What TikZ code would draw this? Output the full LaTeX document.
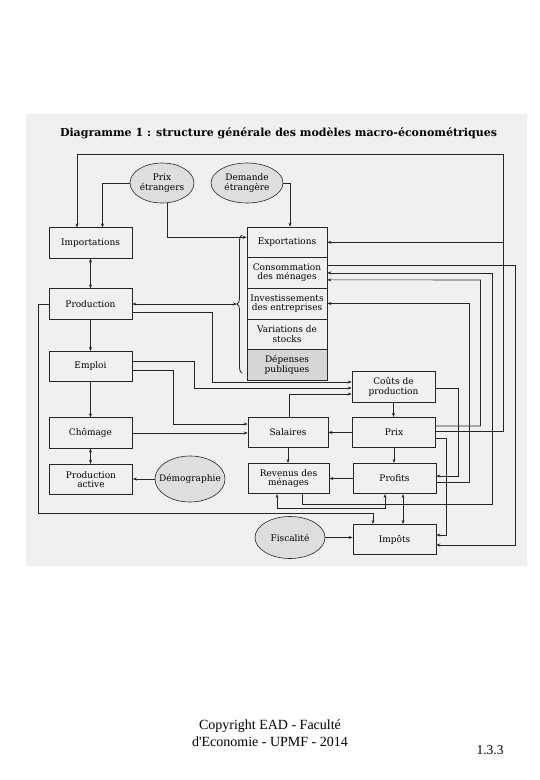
\documentclass[tikz,border=0pt]{standalone}
\usepackage{fontspec}
\setmainfont{DejaVu Serif}
\newfontfamily\footfont{Liberation Serif}
\usetikzlibrary{shapes.geometric,arrows.meta,calc,decorations.pathreplacing}
\begin{document}
\begin{tikzpicture}[x=1pt,y=-1pt,
  txt/.style={font=\fontsize{9}{9.5}\selectfont, align=center},
  box/.style={txt, draw=black!85, line width=0.6pt, minimum width=83pt, minimum height=30.5pt, inner sep=1pt},
  cell/.style={box, minimum width=80pt, minimum height=30.6pt},
  ell/.style={ellipse, draw=black!85, line width=0.6pt, fill=black!13, inner sep=0pt},
  ln/.style={draw=black!85, line width=0.55pt},
  arr/.style={ln, -{Stealth[length=4pt,width=3pt]}},
  darr/.style={ln, {Stealth[length=4pt,width=3pt]}-{Stealth[length=4pt,width=3pt]}},
]
\useasboundingbox (0,0) rectangle (540,780);
\fill[white] (0,0) rectangle (540,780);
\fill[black!6] (26,114) rectangle (527,566);

\node[font=\bfseries\fontsize{11}{13}\selectfont] (title) at (278.5,133) {Diagramme 1 : structure générale des modèles macro-économétriques};

% left column
\node[box] (imp) at (90.5,243) {Importations};
\node[box] (prod) at (90.5,304) {Production};
\node[box] (emp) at (90.5,366.5) {Emploi};
\node[box] (cho) at (90.5,433) {Chômage};
\node[box] (pa) at (91,479.5) {Production\\active};

% demand stack
\node[cell] (expo) at (287,242.3) {Exportations};
\node[cell] (cons) at (287,272.9) {Consommation\\des ménages};
\node[cell] (inv) at (287,303.5) {Investissements\\des entreprises};
\node[cell] (var) at (287,334.1) {Variations de\\stocks};
\node[cell, fill=black!16] (dep) at (287,364.7) {Dépenses\\publiques};

% middle and right
\node[box] (cout) at (393.5,387) {Coûts de\\production};
\node[box] (prix) at (394,432.5) {Prix};
\node[box] (prof) at (394.5,478.5) {Profits};
\node[box] (impo) at (394.5,539.5) {Impôts};
\node[box, minimum width=80pt] (sal) at (288,432.5) {Salaires};
\node[box, minimum width=81pt] (rev) at (288.5,478.5) {Revenus des\\ménages};

% ellipses
\node[ell, minimum width=64pt, minimum height=40pt, label={[txt]center:Prix\\étrangers}] (pe) at (162,183) {};
\node[ell, minimum width=72pt, minimum height=40pt, label={[txt]center:Demande\\étrangère}] (de) at (247,183) {};
\node[ell, minimum width=70pt, minimum height=46pt, label={[txt]center:Démographie}] (demo) at (190,479) {};
\node[ell, minimum width=70pt, minimum height=42pt, label={[txt]center:Fiscalité}] (fis) at (290,537.5) {};

% brace
\draw[ln, line width=0.8pt, decorate, decoration={brace, amplitude=5pt}] (242,373) -- (242,235);
\coordinate (btip) at (237,304);
\coordinate (tr) at (503,154);

% connectors
\draw[darr] (prod.east) -- (btip);
\draw[arr] (pe.west) -| ($(imp.north)+(12,0)$);
\draw[arr] (pe.-75) |- ($(expo.west)+(0,-5)$);
\draw[arr] (de.east) -| ($(expo.north)+(3,0)$);
\draw[arr] ($(prix.east)+(0,-1.5)$) -| (tr) -| ($(imp.north)+(-13.5,0)$);
\draw[arr] (expo.east -| tr) -- (expo.east);

\draw[darr] (imp.south) -- (prod.north);
\draw[arr] (prod.south) -- (emp.north);
\draw[arr] (emp.south) -- (cho.north);
\draw[darr] (cho.south) -- (cho.south |- pa.north);
\draw[arr] (demo.west) -- (demo.west -| pa.east);

\draw[arr] ($(prod.east)+(0,8)$) -| (212,382) -- ($(cout.west)+(0,-5)$);
\draw[arr] ($(emp.east)+(0,-5.5)$) -| (194,388) -- ($(cout.west)+(0,1)$);
\draw[arr] ($(sal.north)+(1,0)$) |- ($(cout.west)+(0,7)$);
\draw[arr] ($(emp.east)+(0,3.5)$) -| (173,424) -- ($(sal.west)+(0,-8.5)$);
\draw[arr] (cho.east) -- (cho.east -| sal.west);

\draw[arr] (cout.south) -- (cout.south |- prix.north);
\draw[arr] (prix.west) -- (sal.east);
\draw[arr] (prix.south) -- (prix.south |- prof.north);
\draw[arr] (sal.south) -- (sal.south |- rev.north);
\draw[arr] (prof.west) -- (rev.east);
\draw[arr] (fis.east) -- (fis.east -| impo.west);

\draw[arr] (prod.west) -| (38,513) -| ($(impo.north)+(-21.5,0)$);
\draw[darr] ($(rev.south)+(-11.5,0)$) |- (385,508) -- ($(prof.south)+(-9.5,0)$);
\draw[darr] ($(prof.south)+(8.5,0)$) -- ($(impo.north)+(8.5,0)$);

\draw[arr] ($(rev.south)+(13.5,0)$) |- (492,504) |- (cons.east);
\draw[arr] ($(prix.east)+(0,-6.5)$) -| (480.5,280) -- ($(cons.east)+(0,7)$);
\draw[arr] ($(prof.east)+(0,3.5)$) -| (469,303.5) -- (inv.east);
\draw[arr] ($(cout.east)+(0,1)$) -| (458,476) -- ($(prof.east)+(0,-2.5)$);
\draw[arr] ($(prix.east)+(0,5.5)$) -| (446,535) -- ($(impo.east)+(0,-4.5)$);
\draw[arr] ($(cons.east)+(0,-8)$) -| (515,545) -- ($(impo.east)+(0,5.5)$);

% footer
\node[font=\footfont\fontsize{14}{17}\selectfont, align=center] (copy) at (270,733) {Copyright EAD - Faculté\\d'Economie - UPMF - 2014};
\node[font=\footfont\fontsize{13.5}{16}\selectfont] (page) at (490,750) {1.3.3};
\end{tikzpicture}
\end{document}
